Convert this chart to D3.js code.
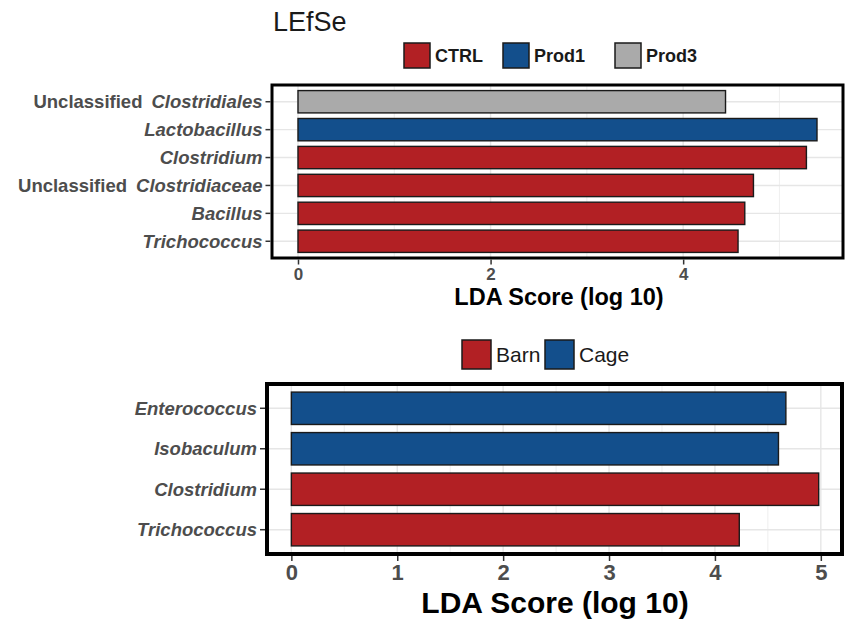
<!DOCTYPE html>
<html>
<head>
<meta charset="utf-8">
<script src="https://cdn.jsdelivr.net/npm/d3@7"></script>
<style>
  html, body { margin: 0; padding: 0; background: #fff; }
  svg { display: block; font-family: "Liberation Sans", Arial, sans-serif; }
</style>
</head>
<body>
<svg id="chart" width="845" height="619"></svg>
<script>
// LEfSe results: product comparison (top) and housing comparison (bottom)
const topTaxa = ["Unclassified Clostridiales", "Lactobacillus", "Clostridium",
                 "Unclassified Clostridiaceae", "Bacillus", "Trichococcus"];
const topScores = [4.44, 5.39, 5.28, 4.73, 4.64, 4.57];
const topGroups = ["Prod3", "Prod1", "CTRL", "CTRL", "CTRL", "CTRL"];
const topLegend = ["CTRL", "Prod1", "Prod3"];
const topTicks = [0, 2, 4];

const bottomTaxa = ["Enterococcus", "Isobaculum", "Clostridium", "Trichococcus"];
const bottomScores = [4.67, 4.60, 4.98, 4.23];
const bottomGroups = ["Cage", "Cage", "Barn", "Barn"];
const bottomLegend = ["Barn", "Cage"];
const bottomTicks = [0, 1, 2, 3, 4, 5];

const groupColor = d3.scaleOrdinal()
  .domain(["CTRL", "Prod1", "Prod3", "Barn", "Cage"])
  .range(["#b22024", "#134f8c", "#aaaaaa", "#b22024", "#134f8c"]);

const svg = d3.select("#chart");

svg.append("text")
  .attr("x", 273).attr("y", 31)
  .attr("font-size", 27).attr("fill", "#1a1a1a")
  .text("LEfSe");

function panel(cfg) {
  const { taxa, scores, groups, ticks, minorTicks, x0, x1, domain, y0, y1 } = cfg;
  const x = d3.scaleLinear().domain(domain).range([x0, x1]);
  const y = d3.scaleBand().domain(taxa).range([y0, y1])
    .paddingInner(0.2).paddingOuter(0.2);
  const g = svg.append("g");

  // grid
  g.selectAll(".minor").data(minorTicks).join("line")
    .attr("x1", d => x(d)).attr("x2", d => x(d))
    .attr("y1", y0).attr("y2", y1)
    .attr("stroke", "#ebebeb").attr("stroke-width", 0.8);
  g.selectAll(".major").data(ticks).join("line")
    .attr("x1", d => x(d)).attr("x2", d => x(d))
    .attr("y1", y0).attr("y2", y1)
    .attr("stroke", "#e6e6e6").attr("stroke-width", 1.4);
  g.selectAll(".hgrid").data(taxa).join("line")
    .attr("x1", x0).attr("x2", x1)
    .attr("y1", d => y(d) + y.bandwidth() / 2).attr("y2", d => y(d) + y.bandwidth() / 2)
    .attr("stroke", "#e6e6e6").attr("stroke-width", 1.4);

  // bars
  g.selectAll(".bar").data(taxa).join("rect")
    .attr("x", x(0))
    .attr("y", d => y(d))
    .attr("width", (d, i) => x(scores[i]) - x(0))
    .attr("height", y.bandwidth())
    .attr("fill", (d, i) => groupColor(groups[i]))
    .attr("stroke", "#1a1a1a").attr("stroke-width", 1.4);

  // panel border
  g.append("rect")
    .attr("x", x0).attr("y", y0)
    .attr("width", x1 - x0).attr("height", y1 - y0)
    .attr("fill", "none").attr("stroke", "#000").attr("stroke-width", cfg.border);

  // x axis
  const xa = g.append("g")
    .attr("transform", `translate(0,${y1 + cfg.border / 2})`)
    .call(d3.axisBottom(x).tickValues(ticks).tickSize(5).tickPadding(3).tickFormat(d3.format("d")));
  xa.select(".domain").remove();
  xa.selectAll(".tick line").attr("stroke", "#333").attr("stroke-width", 1.5);
  xa.selectAll(".tick text")
    .attr("font-family", "Liberation Sans, Arial, sans-serif")
    .attr("font-size", cfg.tickFont).attr("font-weight", "bold").attr("fill", "#4d4d4d");

  // y axis
  const ya = g.append("g")
    .attr("transform", `translate(${x0 - cfg.border / 2},0)`)
    .call(d3.axisLeft(y).tickSize(5).tickPadding(3).tickFormat(""));
  ya.select(".domain").remove();
  ya.selectAll(".tick line").attr("stroke", "#333").attr("stroke-width", 1.5);
  ya.selectAll(".tick").each(function (d) {
    const t = d3.select(this).append("text")
      .attr("x", -8).attr("dy", "0.35em")
      .attr("text-anchor", "end")
      .attr("font-family", "Liberation Sans, Arial, sans-serif")
      .attr("font-size", cfg.labelFont).attr("font-weight", "bold")
      .attr("fill", "#4d4d4d");
    if (d.startsWith("Unclassified ")) {
      t.append("tspan").text("Unclassified");
      t.append("tspan").attr("dx", 9).attr("font-style", "italic").text(d.slice(13));
    } else {
      t.attr("font-style", "italic").text(d);
    }
  });

  // axis title
  svg.append("text")
    .attr("x", cfg.titleX).attr("y", cfg.titleY)
    .attr("text-anchor", "middle")
    .attr("font-size", cfg.titleFont).attr("font-weight", "bold").attr("fill", "#000")
    .text("LDA Score (log 10)");
}

function legend(items, opts) {
  const g = svg.append("g");
  items.forEach((name, i) => {
    const lx = opts.xs[i];
    g.append("rect")
      .attr("x", lx).attr("y", opts.y)
      .attr("width", opts.w).attr("height", opts.h)
      .attr("fill", groupColor(name)).attr("stroke", "#1a1a1a").attr("stroke-width", 1.5);
    g.append("text")
      .attr("x", lx + opts.w + opts.gap).attr("y", opts.y + opts.h / 2)
      .attr("dy", "0.36em")
      .attr("font-size", opts.font).attr("font-weight", opts.weight).attr("fill", "#1a1a1a")
      .text(name);
  });
}

legend(topLegend, { xs: [404, 503, 615], y: 43, w: 26, h: 25, gap: 5, font: 18, weight: "bold" });

panel({
  taxa: topTaxa, scores: topScores, groups: topGroups,
  ticks: topTicks, minorTicks: [1, 3, 5],
  domain: [-0.27, 5.66], x0: 272, x1: 843, y0: 85, y1: 258,
  border: 3, tickFont: 17, labelFont: 18.5,
  titleX: 559, titleY: 305, titleFont: 23.5
});

legend(bottomLegend, { xs: [462, 545], y: 340, w: 29, h: 29, gap: 5, font: 21, weight: "normal" });

panel({
  taxa: bottomTaxa, scores: bottomScores, groups: bottomGroups,
  ticks: bottomTicks, minorTicks: [0.5, 1.5, 2.5, 3.5, 4.5],
  domain: [-0.23, 5.2], x0: 267, x1: 842, y0: 384, y1: 554,
  border: 4, tickFont: 22, labelFont: 18.5,
  titleX: 555, titleY: 613, titleFont: 30
});
</script>
</body>
</html>
